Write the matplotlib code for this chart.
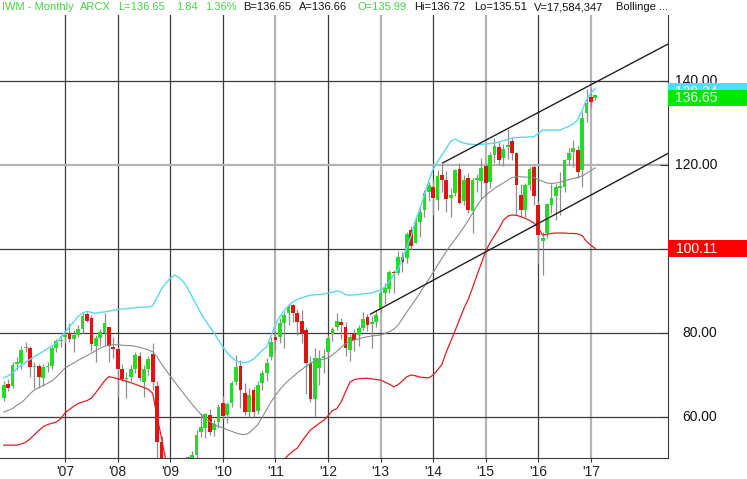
import numpy as np
import matplotlib
matplotlib.use('Agg')
import matplotlib.pyplot as plt
from matplotlib.patches import Rectangle
import pandas as pd

# ---------------- data ----------------
months = pd.period_range('2005-11', '2017-02', freq='M')

opens = [64.5, 67.9,
         67.4, 72.7, 72.9, 76.4, 76.4, 71.9, 72.1, 69.3, 71.9, 72.1, 76.4, 78.0,
         79.0, 80.0, 78.6, 79.5, 81.0, 84.5, 83.6, 76.9, 78.8, 80.0, 81.4, 76.6,
         76.2, 71.4, 69.0, 69.5, 71.4, 74.5, 68.3, 71.4, 75.0, 67.4, 54.0, 46.0,
         49.5, 43.5, 37.8, 41.5, 48.4, 50.3, 50.9, 56.4, 57.4, 60.5, 57.0, 58.8,
         63.3, 60.5, 63.3, 68.3, 72.1, 65.7, 61.2, 66.4, 61.4, 68.1, 70.5, 74.3,
         79.0, 79.0, 82.4, 84.8, 86.7, 84.8, 82.9, 80.7, 72.9, 64.3, 71.7, 74.0,
         75.5, 79.8, 81.4, 82.6, 81.4, 76.0, 79.8, 79.5, 81.2, 83.8, 82.2, 82.6,
         85.5, 89.6, 90.4, 94.6, 94.2, 98.2, 97.9, 104.5, 101.5, 106.5, 109.3, 113.6,
         114.8, 111.7, 117.6, 116.4, 112.1, 113.3, 119.0, 111.5, 116.9, 109.1, 116.4, 116.3,
         119.8, 116.0, 122.4, 124.2, 121.6, 124.3, 125.6, 122.8, 112.9, 109.3, 115.2, 119.4,
         110.5, 102.0, 103.8, 110.5, 112.5, 114.5, 114.8, 121.2, 123.2, 123.6, 118.8, 132.3,
         136.1, 135.99]
highs = [68.6, 69.0,
         73.2, 74.3, 77.0, 77.9, 77.0, 73.0, 72.5, 72.5, 73.2, 76.8, 78.6, 79.4,
         80.3, 82.4, 80.7, 81.8, 84.8, 85.1, 84.3, 79.5, 81.0, 84.8, 81.5, 79.0,
         76.7, 72.5, 70.8, 72.4, 75.5, 75.5, 72.4, 74.5, 77.7, 68.5, 55.5, 50.0,
         50.0, 46.0, 43.5, 49.5, 50.8, 51.8, 56.9, 61.0, 61.0, 62.0, 59.5, 63.0,
         65.0, 63.6, 68.5, 74.8, 73.5, 68.0, 67.0, 67.2, 68.5, 71.2, 74.0, 79.0,
         80.5, 83.6, 85.0, 87.0, 87.0, 85.8, 85.5, 81.5, 74.5, 76.5, 76.0, 76.2,
         79.6, 81.5, 84.8, 83.5, 82.5, 79.8, 81.0, 82.0, 85.1, 84.5, 84.0, 85.5,
         90.0, 91.9, 95.0, 95.0, 99.5, 99.2, 104.1, 105.5, 107.5, 109.7, 114.0, 116.0,
         116.5, 118.8, 120.5, 118.6, 114.5, 119.0, 120.5, 117.6, 118.0, 116.8, 117.8, 121.6,
         120.5, 123.2, 126.4, 125.5, 125.0, 128.6, 126.4, 123.2, 115.5, 115.6, 119.5, 120.0,
         111.5, 104.0, 111.0, 115.5, 115.5, 118.4, 121.5, 124.0, 126.0, 124.5, 132.5, 138.0,
         138.3, 136.72]
lows = [63.8, 66.3,
        66.8, 71.2, 71.5, 75.5, 69.6, 66.8, 66.9, 67.4, 70.6, 71.4, 75.4, 76.6,
        77.6, 77.8, 75.5, 79.0, 80.0, 82.5, 75.8, 73.0, 77.0, 77.1, 73.2, 74.0,
        64.8, 68.5, 64.6, 68.5, 70.5, 68.5, 64.8, 70.0, 66.5, 45.0, 34.0, 41.0,
        41.0, 37.5, 34.0, 40.5, 46.5, 48.5, 49.5, 55.2, 55.0, 55.8, 55.5, 57.5,
        59.5, 58.5, 62.5, 67.6, 62.1, 60.5, 60.0, 60.0, 60.8, 66.5, 68.5, 73.5,
        76.0, 77.6, 76.5, 82.0, 82.5, 79.5, 77.6, 65.5, 63.5, 60.0, 67.5, 70.5,
        74.5, 78.0, 80.7, 78.5, 74.5, 73.4, 75.8, 77.0, 80.7, 80.5, 76.4, 81.5,
        85.0, 87.0, 89.5, 89.6, 93.8, 94.5, 96.6, 100.0, 101.5, 102.9, 107.7, 111.5,
        108.0, 109.3, 113.5, 108.8, 107.7, 112.5, 110.8, 110.5, 108.5, 103.8, 113.6, 112.0,
        112.5, 114.5, 120.5, 120.0, 119.8, 121.5, 121.2, 108.1, 107.9, 107.7, 114.0, 110.5,
        96.5, 93.8, 102.5, 108.5, 107.0, 108.1, 113.5, 120.0, 119.6, 117.0, 114.8, 130.3,
        133.9, 135.51]
closes = [67.6, 66.9,
          72.4, 73.2, 76.0, 76.7, 71.9, 72.1, 69.5, 71.9, 72.2, 76.4, 78.1, 78.3,
          79.5, 78.6, 79.5, 81.0, 84.0, 82.9, 77.4, 78.8, 80.2, 82.4, 76.9, 76.2,
          71.4, 69.0, 69.1, 71.4, 74.8, 69.3, 71.4, 73.8, 68.3, 54.0, 46.5, 49.0,
          43.5, 37.8, 42.0, 48.4, 50.5, 50.9, 55.7, 57.6, 60.6, 56.4, 58.3, 62.4,
          60.2, 63.0, 68.1, 72.0, 66.4, 61.2, 65.2, 61.2, 67.6, 70.5, 72.9, 77.9,
          78.3, 82.4, 84.3, 86.4, 84.8, 82.6, 80.0, 72.9, 64.3, 74.0, 74.0, 74.6,
          78.8, 81.0, 82.8, 81.9, 76.4, 79.0, 78.4, 81.2, 83.3, 81.9, 82.5, 84.3,
          89.5, 90.6, 94.4, 94.2, 98.1, 97.0, 103.6, 100.6, 106.5, 108.9, 113.3, 115.2,
          112.1, 117.3, 116.4, 111.8, 112.9, 118.8, 111.0, 116.4, 109.3, 116.4, 116.8, 119.2,
          115.6, 122.4, 124.4, 121.2, 123.7, 124.7, 122.8, 115.2, 109.3, 115.2, 119.0, 112.5,
          103.3, 102.5, 110.7, 112.1, 114.8, 115.0, 121.2, 122.9, 124.0, 118.4, 131.1, 134.7,
          135.1, 136.65]

upper_band = [69.3, 69.8, 70.5, 71.6, 72.3, 73.0, 73.7, 74.4, 75.0, 75.6, 76.3, 76.9, 77.6, 79.0,
              80.3, 81.5, 82.7, 84.0, 84.8, 85.1, 84.9, 84.7, 84.9, 85.0, 85.2, 85.4,
              85.6, 85.7, 85.8, 85.9, 86.0, 86.1, 86.2, 86.2, 86.5, 88.5, 90.5, 91.9,
              93.0, 93.8, 93.2, 92.2, 90.6, 88.6, 86.6, 84.7, 83.0, 81.5, 80.0, 78.3,
              76.7, 75.3, 74.2, 73.4, 73.0, 72.9, 73.2, 73.8, 74.8, 75.9, 76.7, 79.3,
              82.0, 83.9, 85.3, 86.5, 87.4, 88.0, 88.4, 88.7, 89.0, 89.1, 89.2, 89.3,
              89.5, 89.7, 90.0, 89.8, 89.1, 89.0, 89.1, 89.2, 89.3, 89.4, 89.6, 89.9,
              90.2, 91.0, 92.3, 93.8, 95.1, 97.8, 100.4, 103.1, 106.8, 109.7, 112.9, 116.2,
              119.0, 120.8, 122.4, 124.0, 125.6, 126.2, 125.6, 125.2, 125.0, 124.9, 124.8, 124.9,
              125.0, 125.1, 125.2, 125.5, 125.8, 126.1, 126.4, 126.5, 126.6, 126.6, 126.7, 126.7,
              127.5, 128.3, 128.3, 128.3, 128.3, 128.3, 128.8, 129.2, 129.8, 130.8, 133.0, 135.5,
              137.2, 138.2]
middle_band = [61.2, 61.6, 62.0, 62.8, 63.4, 64.4, 65.5, 66.5, 67.0, 67.5, 68.0, 68.6, 69.5, 70.6,
               71.7, 72.3, 72.9, 73.5, 74.1, 74.6, 75.2, 75.8, 76.4, 76.8, 77.1, 77.2,
               77.2, 77.1, 77.0, 77.0, 76.8, 76.6, 76.3, 76.0, 75.5, 74.3, 72.6, 71.2,
               69.7, 68.4, 67.0, 65.7, 64.3, 63.0, 61.8, 60.6, 59.6, 58.9, 58.3, 57.8,
               57.4, 57.0, 56.6, 56.2, 55.9, 55.8, 56.2, 57.2, 58.2, 60.0, 61.8, 63.6,
               65.2, 66.5, 67.7, 68.7, 69.6, 70.5, 71.3, 72.1, 72.8, 73.2, 73.5, 73.8,
               74.0, 74.8, 75.6, 76.6, 77.5, 78.0, 78.3, 78.6, 78.9, 79.1, 79.3, 79.4,
               79.5, 79.9, 80.3, 80.9, 81.9, 83.4, 85.0, 86.5, 88.0, 89.6, 91.2, 92.8,
               94.4, 96.1, 97.8, 99.4, 100.9, 102.3, 103.7, 105.2, 106.8, 108.5, 110.3, 111.8,
               112.8, 113.6, 114.4, 115.1, 115.7, 116.4, 117.0, 117.2, 117.2, 117.1, 117.1, 117.0,
               116.6, 116.1, 115.7, 115.6, 115.7, 115.9, 116.2, 116.5, 116.8, 117.0, 117.4, 118.0,
               118.7, 119.3]
lower_band = [53.3, 53.3, 53.3, 53.3, 53.6, 54.0, 54.8, 55.8, 56.8, 57.7, 58.2, 58.5, 58.8, 59.6,
              61.0, 61.8, 62.6, 63.2, 63.6, 63.9, 64.5, 65.8, 67.2, 68.6, 69.6, 69.4,
              69.1, 68.8, 68.5, 68.2, 67.8, 67.4, 67.0, 66.6, 65.6, 60.0, 55.0, 49.5,
              46.0, 43.0, 40.5, 39.0, 37.5, 36.3, 35.4, 35.0, 34.8, 34.8, 35.4, 36.2,
              37.0, 37.8, 38.3, 38.6, 38.8, 38.6, 38.8, 39.8, 41.2, 43.8, 45.5, 46.6,
              47.8, 48.8, 49.8, 51.0, 51.9, 52.6, 54.2, 55.6, 56.9, 57.7, 58.5, 59.2,
              60.3, 61.5, 62.0, 63.6, 66.0, 68.3, 68.9, 69.1, 69.2, 69.2, 69.1, 68.9,
              68.8, 68.3, 67.8, 67.2, 67.7, 68.6, 69.6, 70.0, 69.8, 69.5, 69.4, 69.3,
              70.0, 71.2, 72.5, 75.5, 78.0, 80.5, 83.2, 85.8, 88.0, 90.8, 93.8, 96.6,
              99.5, 101.5, 103.2, 104.8, 106.8, 107.8, 108.1, 108.0, 107.7, 107.3, 106.8, 106.2,
              105.0, 103.3, 103.5, 103.7, 103.8, 103.8, 103.8, 103.7, 103.7, 103.6, 103.2, 101.8,
              100.9, 100.1]

year_labels = ["'07", "'08", "'09", "'10", "'11", "'12", "'13", "'14", "'15", "'16", "'17"]
year_values = [2007, 2008, 2009, 2010, 2011, 2012, 2013, 2014, 2015, 2016, 2017]
price_ticks = [60, 80, 100, 120, 140]
price_labels = ['60.00', '80.00', '100.00', '120.00', '140.00']

# channel trend lines: (month offset from Jan 2007, price)
trend_lower = [(69.7, 84.5), (140.0, 124.1)]
trend_upper = [(86.2, 120.5), (140.0, 150.1)]

# right-hand value boxes: (text, box centre, box height, colour)
upper_last_label = ('138.24', 137.45, 4.0, '#3fe6ff')
close_last_label = ('136.65', 135.95, 3.6, '#00e800')
lower_last_label = ('100.11', 100.11, 4.2, '#ff0000')

title_parts = [("IWM - Monthly", 2, 'g'), ("ARCX", 80, 'g'), ("L=136.65", 118, 'g'),
               ("1.84", 176, 'g'), ("1.36%", 205, 'g'), ("B=136.65", 243, 'k'),
               ("A=136.66", 299, 'k'), ("O=135.99", 357, 'g'), ("Hi=136.72", 414, 'k'),
               ("Lo=135.51", 474, 'k'), ("V=17,584,347", 534, 'k'), ("Bollinge ...", 616, 'k')]

# ---------------- figure ----------------
W, H = 747, 479
fig = plt.figure(figsize=(W / 100, H / 100), dpi=100)
plt.rcParams['font.family'] = ['Liberation Sans', 'DejaVu Sans']

ax_right_px, ax_top_px, ax_bot_px = 668, 15, 458
ax = fig.add_axes([0, (H - ax_bot_px) / H, ax_right_px / W, (ax_bot_px - ax_top_px) / H])

x = np.array([(p.year - 2007) * 12 + (p.month - 1) for p in months], dtype=float)
o = np.array(opens); h = np.array(highs); l = np.array(lows); c = np.array(closes)

xmin, xmax = -14.86, 137.6
ymin, ymax = 50.24, 155.7
ax.set_xlim(xmin, xmax)
ax.set_ylim(ymin, ymax)

# grid
dark = '#3a3a3a'
light = '#b4b4b4'
year_pos = [(y - 2007) * 12 for y in year_values]
for yv, xp in zip(year_values, year_pos):
    col = light if yv in (2011, 2013, 2015, 2017) else dark
    lw = 1.6 if col == light else 0.9
    ax.axvline(xp, color=col, lw=lw, zorder=1)
for pv in price_ticks:
    col = light if pv == 120 else dark
    lw = 1.6 if col == light else 0.9
    ax.axhline(pv, color=col, lw=lw, zorder=1)

# candles
green = '#22dd22'
red = '#e01212'
ax.vlines(x, l, h, color='#8e8e8e', lw=0.9, zorder=2)
up = c >= o
body_bot = np.minimum(o, c)
body_h = np.maximum(np.abs(c - o), 0.3)
ax.bar(x[up], body_h[up], bottom=body_bot[up], width=0.85, color=green, zorder=3, linewidth=0)
ax.bar(x[~up], body_h[~up], bottom=body_bot[~up], width=0.85, color=red, zorder=3, linewidth=0)

# bollinger bands
ax.plot(x, upper_band, color='#5ad8f0', lw=1.0, zorder=4)
ax.plot(x, middle_band, color='#8c8c8c', lw=0.8, zorder=4)
ax.plot(x, lower_band, color='#dd2020', lw=0.9, zorder=4)

# channel lines
for tl in (trend_lower, trend_upper):
    ax.plot([tl[0][0], tl[1][0]], [tl[0][1], tl[1][1]], color='#202020', lw=1.0, zorder=5)

# axes styling
for s in ('top', 'left'):
    ax.spines[s].set_visible(False)
ax.spines['right'].set_color(dark)
ax.spines['bottom'].set_color(dark)
ax.set_xticks(year_pos)
ax.set_xticklabels(year_labels, fontsize=10, color='#222222')
ax.tick_params(axis='x', direction='out', length=3, color=dark, pad=2)
ax.yaxis.tick_right()
ax.set_yticks(price_ticks)
ax.set_yticklabels([])
ax.tick_params(axis='y', direction='in', length=6, color=dark)

# right label column
ax2 = fig.add_axes([ax_right_px / W + 0.0005, (H - ax_bot_px) / H, (W - ax_right_px) / W,
                    (ax_bot_px - ax_top_px) / H])
ax2.set_xlim(0, 1)
ax2.set_ylim(ymin, ymax)
ax2.axis('off')
lab_x = (717 - ax_right_px) / (W - ax_right_px)
for pv, pl in zip(price_ticks, price_labels):
    ax2.text(lab_x, pv, pl, ha='right', va='center', fontsize=10, color='#111111', zorder=1)
z = 2
for txt, yc, hh, colr in (upper_last_label, close_last_label, lower_last_label):
    ax2.add_patch(Rectangle((0, yc - hh / 2), 1.0, hh, facecolor=colr, edgecolor='none', zorder=z))
    ax2.text(lab_x, yc - 0.1, txt, ha='right', va='center', fontsize=10, color='white', zorder=z + 1)
    z += 2

# title
for txt, xp, cc in title_parts:
    fig.text(xp / W, 1 - 7.5 / H, txt, ha='left', va='center', fontsize=8,
             color='#44d444' if cc == 'g' else '#111111')

fig.savefig('out.png', dpi=100)
